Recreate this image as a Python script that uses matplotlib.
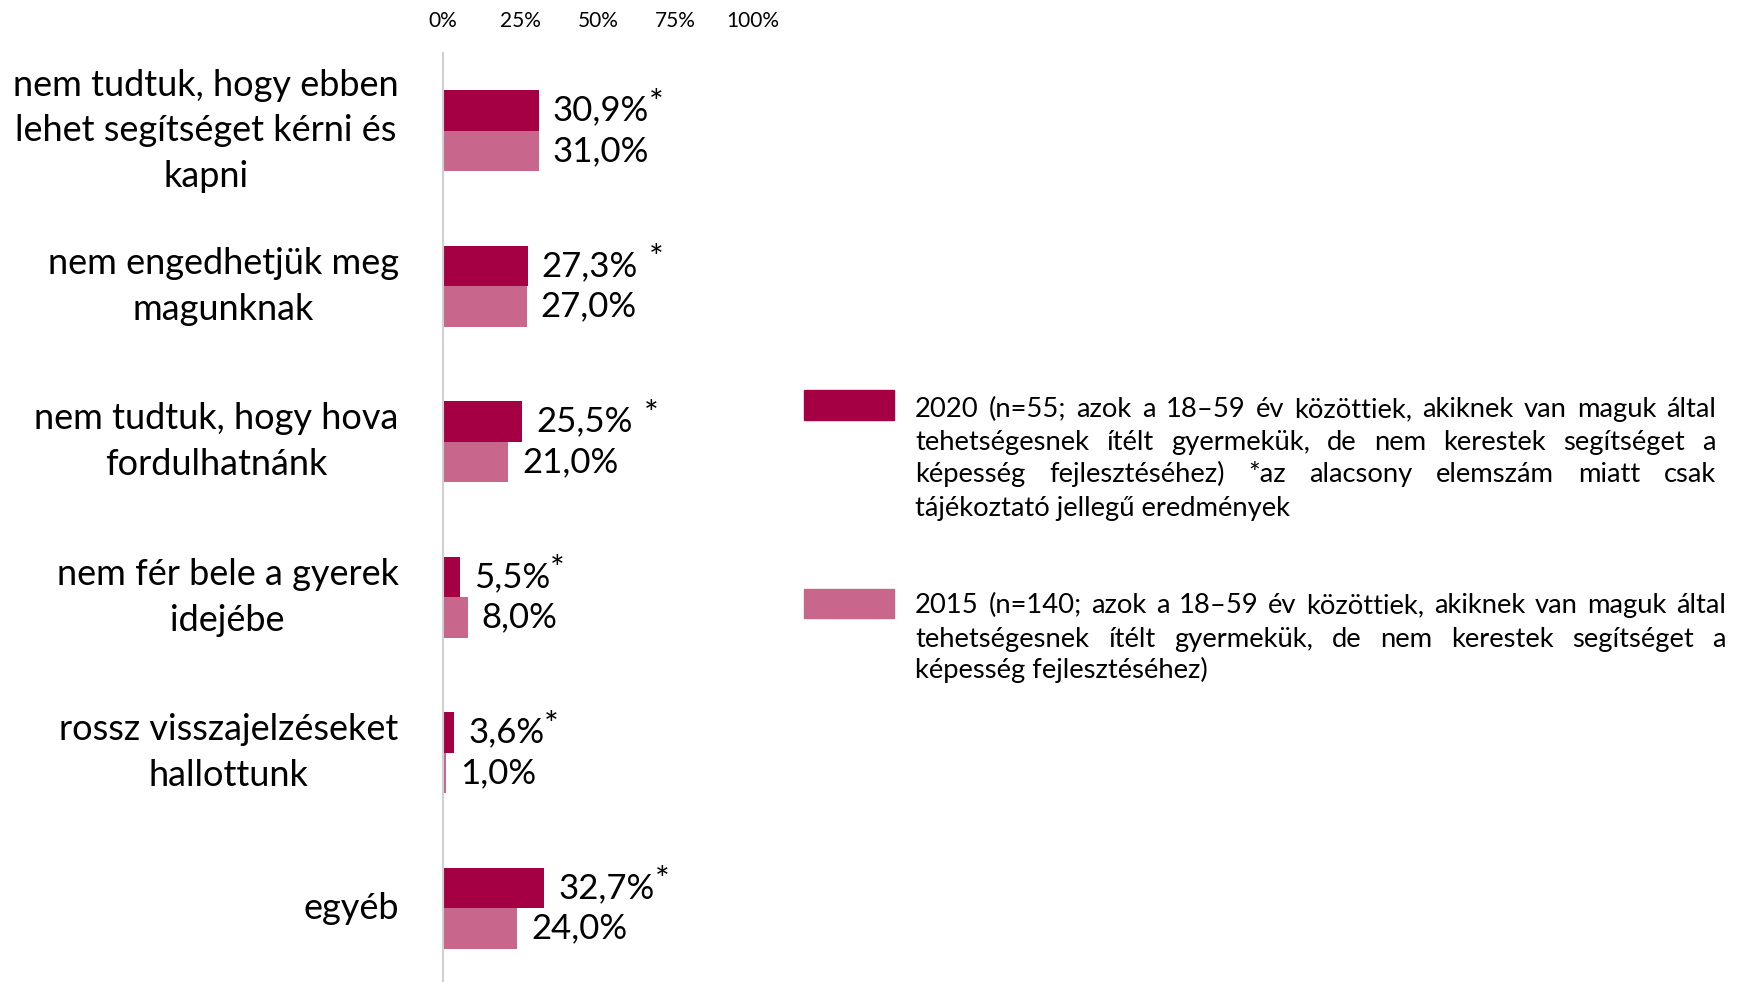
import numpy as np
import matplotlib.pyplot as plt
from matplotlib.patches import Rectangle

plt.rcParams['font.family'] = ['Lato', 'DejaVu Sans']

# adatok
categories = ["nem tudtuk, hogy ebben\nlehet segítséget kérni és\nkapni",
              "nem engedhetjük meg\nmagunknak",
              "nem tudtuk, hogy hova\nfordulhatnánk",
              "nem fér bele a gyerek\nidejébe",
              "rossz visszajelzéseket\nhallottunk",
              "egyéb"]
values_2020 = [30.9, 27.3, 25.5, 5.5, 3.6, 32.7]
values_2015 = [31.0, 27.0, 21.0, 8.0, 1.0, 24.0]
star_space = [False, True, True, False, False, False]
ticks = [0, 25, 50, 75, 100]
tick_labels = ["0%", "25%", "50%", "75%", "100%"]

legend_2020 = ["2020 (n=55; azok a 18–59 év közöttiek, akiknek van maguk által",
               "tehetségesnek ítélt gyermekük, de nem kerestek segítséget a",
               "képesség fejlesztéséhez) *az alacsony elemszám miatt csak",
               "tájékoztató jellegű eredmények"]
legend_2015 = ["2015 (n=140; azok a 18–59 év közöttiek, akiknek van maguk által",
               "tehetségesnek ítélt gyermekük, de nem kerestek segítséget a",
               "képesség fejlesztéséhez)"]

c2020 = "#A50044"
c2015 = "#C8668C"

W, H = 1742, 982
fig = plt.figure(figsize=(W / 100, H / 100), dpi=100)
ax = fig.add_axes([443 / W, 0, 310 / W, (H - 53) / H])

y = np.arange(len(categories))
h = 0.26
ax.barh(y - h / 2, values_2020, height=h, color=c2020)
ax.barh(y + h / 2, values_2015, height=h, color=c2015)
ax.set_xlim(0, 100)
ax.set_ylim(5.474, -0.5)


def fmt(v):
    return ("%.1f" % v).replace(".", ",") + "%"


for i in range(len(categories)):
    t = ax.annotate(fmt(values_2020[i]), xy=(values_2020[i], y[i] - h / 2),
                    xytext=(10, 0), textcoords="offset points",
                    va="center", ha="left", fontsize=25)
    gap = 8 if star_space[i] else 0
    ax.annotate("*", xy=(1, 1), xycoords=t, xytext=(gap, 5),
                textcoords="offset points", va="top", ha="left", fontsize=25)
    ax.annotate(fmt(values_2015[i]), xy=(values_2015[i], y[i] + h / 2),
                xytext=(10, 0), textcoords="offset points",
                va="center", ha="left", fontsize=25)

ax.set_yticks(y)
ax.set_yticklabels(categories, fontsize=26, ha="right", va="center",
                   multialignment="center", linespacing=1.47)
ax.tick_params(axis="y", length=0, pad=32)
ax.xaxis.tick_top()
ax.set_xticks(ticks)
ax.set_xticklabels(tick_labels, fontsize=15)
ax.tick_params(axis="x", length=0, pad=16)

for s in ["top", "right", "bottom"]:
    ax.spines[s].set_visible(False)
ax.spines["left"].set_color("#D0D0D0")
ax.spines["left"].set_linewidth(1.5)

# jelmagyarázat
fig.patches.append(Rectangle((804 / W, 1 - 420 / H), 90 / W, 30 / H,
                             transform=fig.transFigure, color=c2020))
fig.patches.append(Rectangle((804 / W, 1 - 618 / H), 90 / W, 29 / H,
                             transform=fig.transFigure, color=c2015))

renderer = fig.canvas.get_renderer()


def justified(lines, x0, x1, baselines, size):
    for i, line in enumerate(lines):
        yy = 1 - baselines[i] / H
        if i == len(lines) - 1:
            fig.text(x0 / W, yy, line, fontsize=size, va="baseline")
            continue
        words = line.split()
        txts = [fig.text(0, yy, w, fontsize=size, va="baseline") for w in words]
        widths = [t.get_window_extent(renderer).width for t in txts]
        gap = (x1 - x0 - sum(widths)) / (len(words) - 1)
        x = x0
        for t, w in zip(txts, widths):
            t.set_x(x / W)
            x += w + gap


justified(legend_2020, 915, 1716, [417, 450, 482, 516], 19.7)
justified(legend_2015, 915, 1726, [613, 647, 678], 19.7)

fig.savefig("out.png", dpi=100)
